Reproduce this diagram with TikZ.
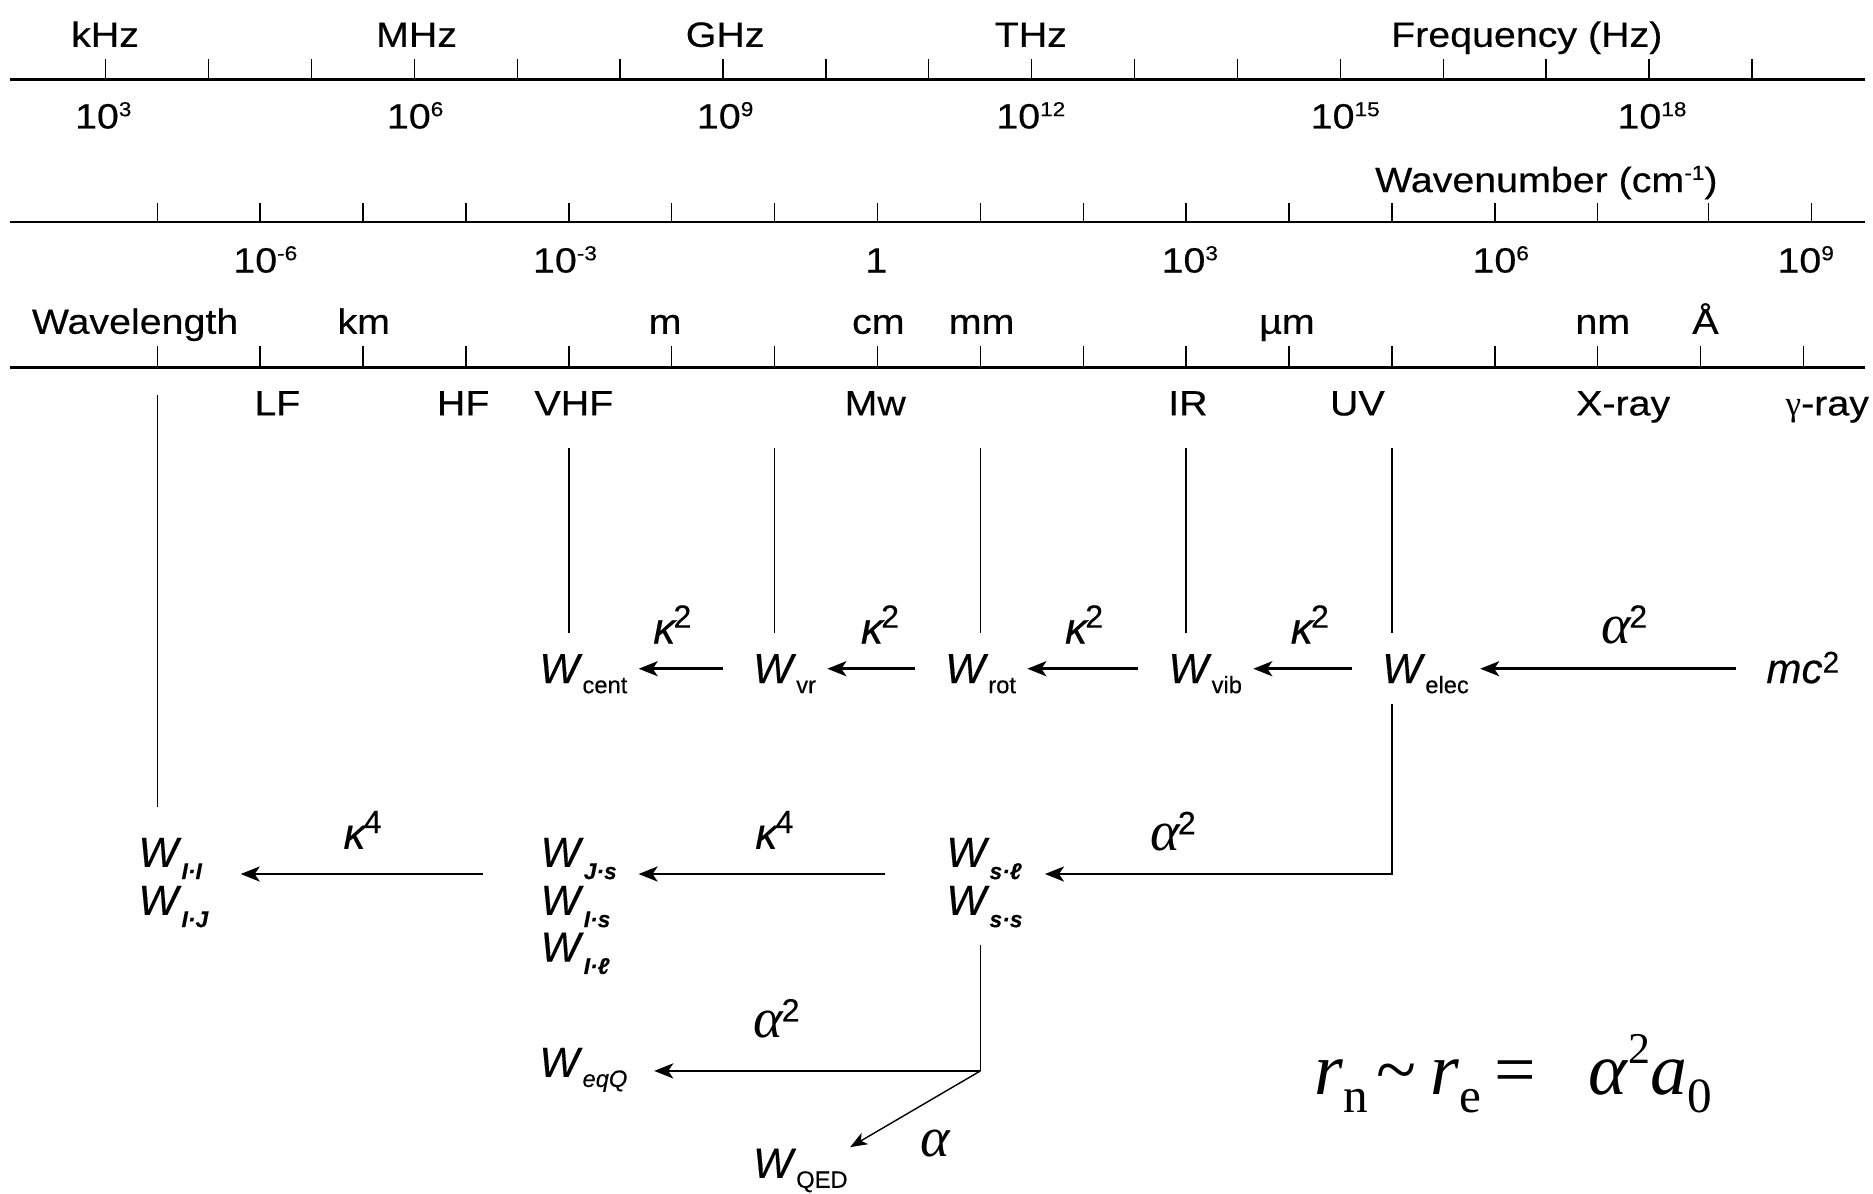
\documentclass[tikz,border=0pt]{standalone}
\usepackage{fontspec}
\setmainfont{Liberation Sans}
\newfontfamily\serif{Liberation Serif}
\newfontfamily\lblfont{Liberation Sans}[FakeStretch=1.12,FakeBold=0.4]
\newfontfamily\wfont{Liberation Sans}[FakeBold=0.3]
\usetikzlibrary{arrows.meta}
\newcommand{\sps}[1]{\raisebox{7pt}{\fontsize{11.5}{13}\selectfont #1}}
\newcommand{\Wsub}[1]{\textit{W}\lower5.7pt\hbox{\fontsize{13.5}{15}\selectfont #1}}
\newcommand{\Wbold}[1]{\textit{W}\lower7pt\hbox{\fontsize{13}{15}\selectfont\bfseries\itshape #1}}
\newcommand{\kap}[1]{{\fontsize{25}{28}\selectfont\itshape κ}\kern-1pt\raisebox{9pt}{#1}}
\newcommand{\alp}[1]{{\serif\itshape\fontsize{32}{34}\selectfont α}\kern-1pt\raisebox{9pt}{#1}}
\tikzset{
    axis/.style={line width=1.5pt},
    tick/.style={line width=0.8pt},
    link/.style={line width=0.8pt},
    arr/.style={line width=1.5pt,-{Stealth[length=3.8mm,width=3mm,inset=1mm]}},
    thinarr/.style={line width=0.8pt,-{Stealth[length=3.4mm,width=2.6mm,inset=0.9mm]}},
    lbl/.style={inner sep=0pt,anchor=base,font=\lblfont\fontsize{20}{24}\selectfont},
    wnode/.style={inner sep=0pt,anchor=base west,font=\wfont\fontsize{24}{28}\selectfont},
    factor/.style={inner sep=0pt,anchor=base,font=\wfont\fontsize{18.3}{22}\selectfont},
}
\begin{document}
\begin{tikzpicture}[x=0.24012mm,y=-0.24012mm]
\useasboundingbox (0,0) rectangle (1560.1,993.7);
% the three scales
\draw[axis] (8,66) -- (1553,66);
\draw[axis] (8,185) -- (1553,185);
\draw[axis] (8,306) -- (1553,306);
\foreach \k in {0,...,16}
    \draw[tick] ({88+85.7*\k},49) -- ({88+85.7*\k},66);
\foreach \x in {131,216.7,302.4,388.1,473.8,559.5,645.2,730.9,816.6,902.3,988,1073.7,1159.4,1245.1,1330.8,1423,1509}
    \draw[tick] (\x,169) -- (\x,185);
\foreach \k in {0,...,16}
    \draw[tick] ({131+85.7*\k},288) -- ({131+85.7*\k},306);
% scale labels
\foreach \x/\t [count=\i] in {87.5/kHz, 347/MHz, 604/GHz, 858.6/THz, 1271.7/Frequency (Hz)}
    \node[lbl] (f\i) at (\x,39) {\t};
\foreach \x/\e in {86/3, 345.8/6, 604/9, 858.6/12, 1120.5/15, 1376/18}
    \node[lbl] (p\e) at (\x,107) {10\sps{\e}};
\node[lbl] (wntitle) at (1288,160) {Wavenumber (cm\sps{-1})};
\foreach \x/\t [count=\i] in {221/10\sps{-6}, 470.6/10\sps{-3}, 730/1, 991/10\sps{3}, 1250/10\sps{6}, 1504/10\sps{9}}
    \node[lbl] (wn\i) at (\x,227) {\t};
\foreach \x/\t [count=\i] in {112.5/Wavelength, 303/km, 554/m, 731.6/cm, 817.6/mm, 1072/µm, 1335/nm, 1420.5/Å}
    \node[lbl] (wl\i) at (\x,278) {\t};
\foreach \x/\t [count=\i] in {231/LF, 385.8/HF, 478/VHF, 729/Mw, 989.5/IR, 1130.6/UV, 1352/X-ray, 1522/{\serif γ}-ray}
    \node[lbl] (band\i) at (\x,346) {\t};
% energy terms
\node[wnode] (cent) at (449,569) {\Wsub{cent}};
\node[wnode] (vr) at (627,569) {\Wsub{vr}};
\node[wnode] (rot) at (787,569) {\Wsub{rot}};
\node[wnode] (vib) at (973,569) {\Wsub{vib}};
\node[wnode] (elec) at (1151,569) {\Wsub{elec}};
\node[wnode] (mc) at (1471,569) {\textit{mc}\raisebox{6pt}{\fontsize{17}{19}\selectfont 2}};
\node[wnode] (II) at (115,722) {\Wbold{I·I}};
\node[wnode] (IJ) at (115,762) {\Wbold{I·J}};
\node[wnode] (Js) at (450,722) {\Wbold{J·s}};
\node[wnode] (Is) at (450,762) {\Wbold{I·s}};
\node[wnode] (Il) at (450,801) {\Wbold{I·ℓ}};
\node[wnode] (sl) at (788,722) {\Wbold{s·ℓ}};
\node[wnode] (ss) at (788,762) {\Wbold{s·s}};
\node[wnode] (eqQ) at (449,897) {\textit{W}\lower5.7pt\hbox{\fontsize{13.5}{15}\selectfont\itshape eqQ}};
\node[wnode] (QED) at (627,981) {\Wsub{QED}};
% factors
\node[factor] (k1) at (560,536) {\kap{2}};
\node[factor] (k2) at (733,536) {\kap{2}};
\node[factor] (k3) at (903,536) {\kap{2}};
\node[factor] (k4) at (1091,536) {\kap{2}};
\node[factor] (a1) at (1353,536) {\alp{2}};
\node[factor] (k5) at (302,707) {\kap{4}};
\node[factor] (k6) at (645,707) {\kap{4}};
\node[factor] (a2) at (977,708) {\alp{2}};
\node[factor] (a3) at (647,864) {\alp{2}};
\node[factor] (a4) at (778,963) {\alp{}};
\node[inner sep=0pt,anchor=base west] (radius) at (1095,912) {\serif\fontsize{42}{46}\selectfont
    \textit{r}\lower10pt\hbox{\fontsize{28}{30}\selectfont n}\kern1.5mm\textasciitilde\kern3mm\textit{r}\lower10pt\hbox{\fontsize{28}{30}\selectfont e}\kern2.5mm=\kern10.5mm\textit{α}\raise18pt\hbox{\fontsize{25}{26}\selectfont 2}\textit{a}\lower10pt\hbox{\fontsize{28}{30}\selectfont 0}};
% connectors
\coordinate (r2) at (0,557);
\coordinate (bend) at (1159.4,728);
\coordinate (split) at (816.6,892);
\coordinate (tII) at (131,329);
\foreach \n/\x in {cent/473.8, vr/645.2, rot/816.6, vib/988, elec/1159.4} {
    \coordinate (t\n) at (\x,373);
    \draw[link,shorten >=4.1mm] (t\n) -- (t\n |- \n.north);
}
\draw[link,shorten >=6mm] (tII) -- (tII |- II.north);
\foreach \a/\b in {mc/elec, elec/vib, vib/rot, rot/vr, vr/cent}
    \draw[arr,shorten <=6mm,shorten >=2.2mm] (\a.west |- r2) -- (\b.east |- r2);
\draw[arr,shorten <=2mm,shorten >=4.6mm] (elec.south -| bend) -- (bend) -- (sl.east |- bend);
\draw[arr,shorten <=12.2mm,shorten >=4.3mm] (sl.west |- bend) -- (Js.east |- bend);
\draw[arr,shorten <=11.5mm,shorten >=7.7mm] (Js.west |- bend) -- (II.east |- bend);
\draw[link,shorten <=3.4mm] (ss.south -| split) -- (split);
\draw[arr,shorten >=5.3mm] (split) -- (eqQ.east |- split);
\draw[thinarr,shorten >=0.5mm] (split) -- (QED.north east);
\end{tikzpicture}
\end{document}
